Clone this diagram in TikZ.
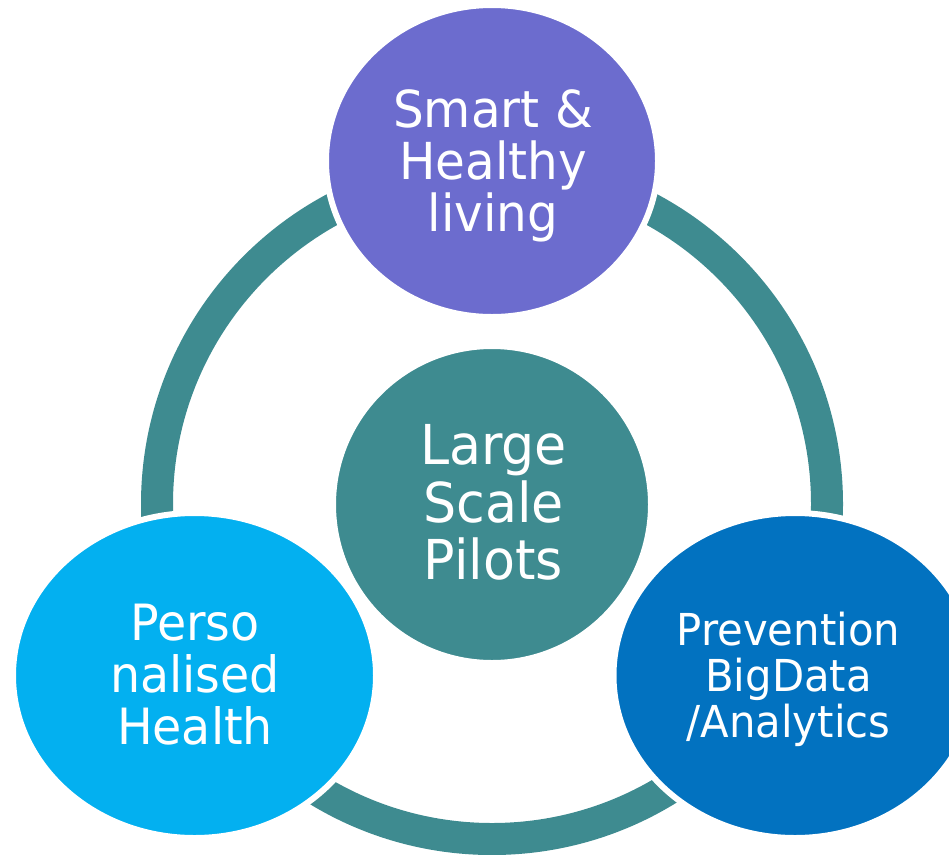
\documentclass[tikz,border=0pt]{standalone}
\usepackage{fontspec}
\newfontfamily\dv[FakeStretch=0.95]{DejaVu Sans}
\usetikzlibrary{shapes.geometric}
\definecolor{ringteal}{RGB}{62,139,144}
\definecolor{topviolet}{RGB}{108,108,206}
\definecolor{leftblue}{RGB}{3,176,240}
\definecolor{rightblue}{RGB}{2,114,192}
\begin{document}
\begin{tikzpicture}[x=1pt,y=-1pt,
  bubble/.style={ellipse, inner sep=0pt, draw=white, line width=6pt},
  captxt/.style={text=white, align=center, inner sep=0pt}]
\useasboundingbox (0,0) rectangle (949,854);
\clip (0,0) rectangle (949,854);
% ring
\node[circle, draw=ringteal, line width=32pt, minimum size=670pt, inner sep=0pt] (ring) at (492,504) {};
% outer bubbles
\node[bubble, fill=topviolet, minimum width=332pt, minimum height=312pt] (top) at (492,161) {};
\node[bubble, fill=leftblue, minimum width=363pt, minimum height=325pt] (left) at (194.5,675.5) {};
\node[bubble, fill=rightblue, minimum width=363pt, minimum height=325pt] (right) at (795,675.5) {};
\node[bubble, fill=ringteal, minimum width=318pt, minimum height=317pt] (mid) at (492,504.5) {};
% texts
\node[captxt, font=\dv\fontsize{51}{52}\selectfont] (toptxt) at (493,165.5) {Smart \&\\Healthy\\living};
\node[captxt, font=\dv\fontsize{55}{57.5}\selectfont] (midtxt) at (493.5,502.8) {Large\\Scale\\Pilots};
\node[captxt, font=\dv\fontsize{50}{52}\selectfont] (lefttxt) at (195,674.8) {Perso\\nalised\\Health};
\node[captxt, font=\dv\fontsize{44}{46}\selectfont] (righttxt) at (788.5,678.9) {Prevention\\BigData\\/Analytics};
\end{tikzpicture}
\end{document}
